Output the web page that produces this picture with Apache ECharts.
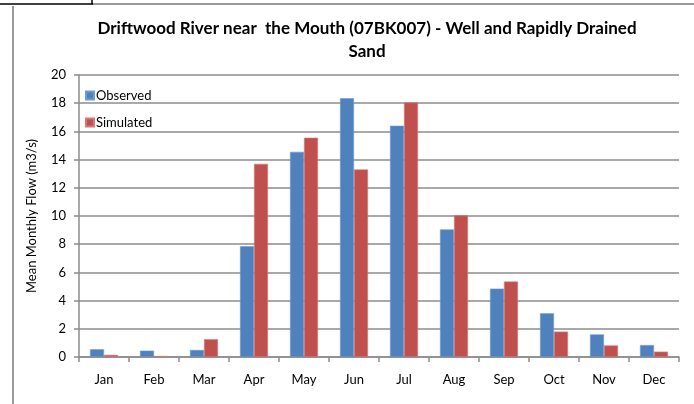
<!DOCTYPE html>
<html>
<head>
<meta charset="utf-8">
<script src="https://cdn.jsdelivr.net/npm/echarts@6/dist/echarts.min.js"></script>
<style>
  html, body { margin: 0; padding: 0; background: #fff; }
  #main { width: 694px; height: 404px; }
</style>
</head>
<body>
<div id="main"></div>
<script>
// monthly flow
const months = ['Jan', 'Feb', 'Mar', 'Apr', 'May', 'Jun', 'Jul', 'Aug', 'Sep', 'Oct', 'Nov', 'Dec'];
const observed = [0.55, 0.45, 0.5, 7.85, 14.55, 18.35, 16.4, 9.05, 4.85, 3.1, 1.6, 0.85];
const simulated = [0.15, 0.07, 1.26, 13.7, 15.55, 13.3, 18.05, 10.05, 5.35, 1.8, 0.82, 0.38];
const yTicks = [0, 2, 4, 6, 8, 10, 12, 14, 16, 18, 20];

const font = 'Lato, "Open Sans", sans-serif';
const gridGray = '#8c8c8c';

const chart = echarts.init(document.getElementById('main'));
chart.setOption({
    animation: false,
    backgroundColor: '#fff',
    textStyle: { fontFamily: font },
    title: {
        text: 'Driftwood River near  the Mouth (07BK007) - Well and Rapidly Drained\nSand',
        left: 362,
        top: 12,
        textAlign: 'center',
        textStyle: { fontSize: 17, fontWeight: 'bold', color: '#000', lineHeight: 23, fontFamily: font }
    },
    legend: {
        orient: 'vertical',
        left: 80,
        top: 84,
        itemWidth: 8,
        itemHeight: 8,
        itemGap: 14,
        icon: 'rect',
        textStyle: { fontSize: 13, color: '#000', padding: [0, 0, 0, -3] },
        data: ['Observed', 'Simulated']
    },
    grid: { left: 79, right: 15, top: 75, bottom: 47 },
    xAxis: {
        type: 'category',
        data: months,
        axisLine: { lineStyle: { color: gridGray, width: 1.5 } },
        axisTick: { show: true, length: 5, lineStyle: { color: gridGray, width: 1.5 } },
        axisLabel: { fontSize: 13, color: '#000', margin: 16 }
    },
    yAxis: {
        type: 'value',
        min: yTicks[0],
        max: yTicks[yTicks.length - 1],
        interval: 2,
        name: 'Mean Monthly Flow (m3/s)',
        nameLocation: 'middle',
        nameGap: 41,
        nameTextStyle: { fontSize: 13, color: '#000' },
        axisLine: { show: true, lineStyle: { color: gridGray, width: 1.5 } },
        axisTick: { show: true, length: 5, lineStyle: { color: gridGray, width: 1.5 } },
        axisLabel: { fontSize: 13, color: '#000', margin: 13 },
        splitLine: { lineStyle: { color: gridGray, width: 1.5 } }
    },
    series: [
        {
            name: 'Observed',
            type: 'bar',
            data: observed,
            barGap: '0%',
            barCategoryGap: '44%',
            itemStyle: { color: '#4f81bd', borderColor: '#6f9bd1', borderWidth: 0.6 }
        },
        {
            name: 'Simulated',
            type: 'bar',
            data: simulated,
            barGap: '0%',
            barCategoryGap: '44%',
            itemStyle: { color: '#c0504d', borderColor: '#d37a77', borderWidth: 0.6 }
        }
    ],
    graphic: [
        // outer frame remnants of the original figure
        { type: 'line', shape: { x1: 92, y1: 4, x2: 694, y2: 4 }, style: { stroke: '#9a9a9a', lineWidth: 2 }, silent: true },
        { type: 'line', shape: { x1: 0, y1: 4, x2: 93, y2: 4 }, style: { stroke: '#000', lineWidth: 1.5 }, silent: true },
        { type: 'line', shape: { x1: 92, y1: 0, x2: 92, y2: 4 }, style: { stroke: '#000', lineWidth: 1.5 }, silent: true },
        { type: 'line', shape: { x1: 13, y1: 6, x2: 13, y2: 404 }, style: { stroke: '#9a9a9a', lineWidth: 2 }, silent: true }
    ]
});
</script>
</body>
</html>
